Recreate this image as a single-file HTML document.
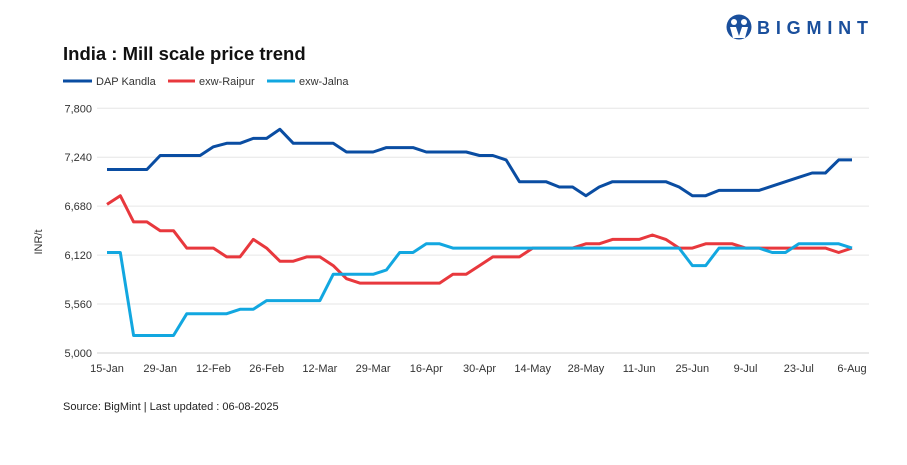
<!DOCTYPE html>
<html><head><meta charset="utf-8"><style>
body{margin:0;background:#fff;width:907px;height:460px;overflow:hidden;font-family:"Liberation Sans",sans-serif}
</style></head><body>
<svg width="907" height="460" style="font-family:'Liberation Sans',sans-serif">
<g>
<circle cx="739" cy="27" r="12.5" fill="#1a4f9c"/>
<circle cx="734" cy="22" r="3" fill="#fff"/><circle cx="744" cy="22" r="3" fill="#fff"/>
<path d="M730 27 L736 27 L739 36 L742 27 L748 27 L745 38 L733 38Z" fill="#fff"/>
<text x="757" y="34" font-size="18" font-weight="bold" fill="#1a4f9c" textLength="111" lengthAdjust="spacing">BIGMINT</text>
</g>
<text x="63" y="60" font-size="18.5" font-weight="bold" fill="#111">India : Mill scale price trend</text>
<g font-size="11" fill="#333">
<line x1="63" y1="81" x2="92" y2="81" stroke="#0a4da2" stroke-width="3"/><text x="96" y="85">DAP Kandla</text>
<line x1="168" y1="81" x2="195" y2="81" stroke="#e8383d" stroke-width="3"/><text x="199" y="85">exw-Raipur</text>
<line x1="267" y1="81" x2="295" y2="81" stroke="#12a7e0" stroke-width="3"/><text x="299" y="85">exw-Jalna</text>
</g>
<text transform="translate(42,242) rotate(-90)" font-size="11" fill="#333" text-anchor="middle">INR/t</text>
<g id="grid"></g><g id="lines"></g><g id="labels"></g>
<text x="63" y="410" font-size="11" fill="#222">Source: BigMint | Last updated : 06-08-2025</text>
</svg>
<script>
const yTicks=[5000,5560,6120,6680,7240,7800];
const xLabels=["15-Jan","29-Jan","12-Feb","26-Feb","12-Mar","29-Mar","16-Apr","30-Apr","14-May","28-May","11-Jun","25-Jun","9-Jul","23-Jul","6-Aug"];
const dapKandla=[7100,7100,7100,7100,7260,7260,7260,7260,7360,7400,7400,7456,7456,7560,7400,7400,7400,7400,7300,7300,7300,7350,7350,7350,7300,7300,7300,7300,7260,7260,7210,6960,6960,6960,6900,6900,6800,6900,6960,6960,6960,6960,6960,6900,6800,6800,6860,6860,6860,6860,6910,6960,7010,7060,7060,7210,7210];
const exwRaipur=[6700,6800,6500,6500,6400,6400,6200,6200,6200,6100,6100,6300,6200,6050,6050,6100,6100,6000,5850,5800,5800,5800,5800,5800,5800,5800,5900,5900,6000,6100,6100,6100,6200,6200,6200,6200,6250,6250,6300,6300,6300,6350,6300,6200,6200,6250,6250,6250,6200,6200,6200,6200,6200,6200,6200,6150,6200];
const exwJalna=[6150,6150,5200,5200,5200,5200,5450,5450,5450,5450,5500,5500,5600,5600,5600,5600,5600,5900,5900,5900,5900,5950,6150,6150,6250,6250,6200,6200,6200,6200,6200,6200,6200,6200,6200,6200,6200,6200,6200,6200,6200,6200,6200,6200,6000,6000,6200,6200,6200,6200,6150,6150,6250,6250,6250,6250,6200];
const NS="http://www.w3.org/2000/svg";
const x0=107,x1=852,yTop=108.3,yBot=353;
const n=dapKandla.length;
const X=i=>x0+(x1-x0)*i/(n-1);
const Y=v=>yBot-(v-5000)/(7800-5000)*(yBot-yTop);
const grid=document.getElementById('grid'),lines=document.getElementById('lines'),labels=document.getElementById('labels');
yTicks.forEach(v=>{
 const l=document.createElementNS(NS,'line');
 l.setAttribute('x1',x0-10);l.setAttribute('x2',x1+17);l.setAttribute('y1',Y(v));l.setAttribute('y2',Y(v));
 l.setAttribute('stroke',v===5000?'#d0d0d0':'#e6e6e6');l.setAttribute('stroke-width','1');
 
 
 grid.appendChild(l);
 const t=document.createElementNS(NS,'text');
 t.setAttribute('x',92);t.setAttribute('y',Y(v)+4);t.setAttribute('text-anchor','end');t.setAttribute('font-size','11');t.setAttribute('fill','#333');
 t.textContent=v.toLocaleString('en-US');
 
 
 labels.appendChild(t);
});
xLabels.forEach((s,i)=>{
 const t=document.createElementNS(NS,'text');
 t.setAttribute('x',X(i*4));t.setAttribute('y',372);t.setAttribute('text-anchor','middle');t.setAttribute('font-size','11');t.setAttribute('fill','#333');
 t.textContent=s;
 
 
 labels.appendChild(t);
});
function draw(arr,color,name){
 const p=document.createElementNS(NS,'polyline');
 p.setAttribute('points',arr.map((v,i)=>X(i).toFixed(1)+','+Y(v).toFixed(1)).join(' '));
 p.setAttribute('fill','none');p.setAttribute('stroke',color);p.setAttribute('stroke-width','3');p.setAttribute('stroke-linejoin','round');
 
 
 lines.appendChild(p);
}
draw(dapKandla,'#0a4da2','dap-kandla-line');
draw(exwRaipur,'#e8383d','exw-raipur-line');
draw(exwJalna,'#12a7e0','exw-jalna-line');
</script>
</body></html>
